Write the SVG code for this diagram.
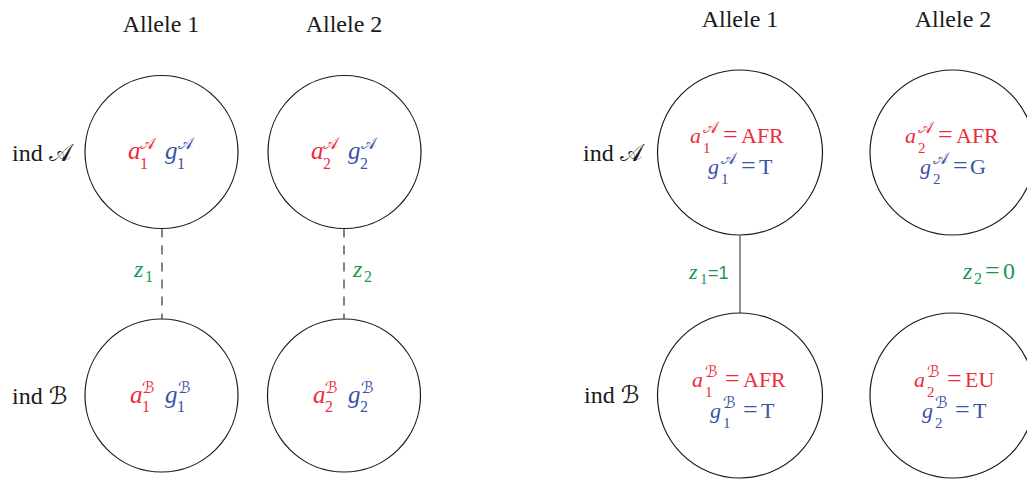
<svg xmlns="http://www.w3.org/2000/svg" width="1027" height="479" viewBox="0 0 1027 479">
<style>
.circ{fill:#fff;stroke:#1a1a1a;stroke-width:1.2}
.lbl{font-family:"Liberation Serif",serif;font-size:24px;fill:#1a1a1a}
.cal{font-family:"DejaVu Serif","DejaVu Sans","Noto Sans",serif;font-style:normal}
.red{fill:#ec2c3b}
.blue{fill:#3953a6}
.green{fill:#16994f}
.mi{font-family:"Liberation Serif",serif;font-style:italic}
.rm{font-family:"Liberation Serif",serif}
.L{font-size:25px}
.S{font-size:16px}
.P{font-size:16px}
.Q{font-size:15px}
.R{font-size:22px}
.eq{font-size:26px}
.dash{stroke:#333;stroke-width:1.2;stroke-dasharray:9 8;fill:none}
.solid{stroke:#555;stroke-width:1.3;fill:none}
</style>

<!-- column / row labels -->
<g id="labels">
<text class="lbl" x="161" y="32" text-anchor="middle">Allele 1</text>
<text class="lbl" x="344" y="32" text-anchor="middle">Allele 2</text>
<text class="lbl" x="740" y="27" text-anchor="middle">Allele 1</text>
<text class="lbl" x="953" y="27" text-anchor="middle">Allele 2</text>
<text class="lbl" x="12" y="161">ind <tspan class="cal">𝒜</tspan></text>
<text class="lbl" x="12" y="404">ind <tspan class="cal">ℬ</tspan></text>
<text class="lbl" x="583" y="161">ind <tspan class="cal">𝒜</tspan></text>
<text class="lbl" x="584" y="403">ind <tspan class="cal">ℬ</tspan></text>
</g>

<!-- connectors -->
<g id="connectors">
<line class="dash" x1="162" y1="228.5" x2="162" y2="319"/>
<line class="dash" x1="344" y1="228.5" x2="344" y2="319"/>
<line class="solid" x1="740" y1="235.5" x2="740" y2="313"/>
<text class="green"><tspan class="mi" x="134" y="277" font-size="24">z</tspan><tspan class="rm S" x="145" y="282">1</tspan></text>
<text class="green"><tspan class="mi" x="353" y="277" font-size="24">z</tspan><tspan class="rm S" x="364" y="282">2</tspan></text>
<text class="green"><tspan class="mi" x="689" y="279" font-size="22">z</tspan><tspan class="rm" x="700" y="284" font-size="15">1</tspan><tspan x="708" y="279" font-family="Liberation Sans, sans-serif" font-size="18">=1</tspan></text>
<text class="green"><tspan class="mi" x="963" y="279" font-size="24">z</tspan><tspan class="rm S" x="974" y="284">2</tspan><tspan class="rm" x="985" y="279" font-size="26">=</tspan><tspan class="rm" x="1003" y="279" font-size="24">0</tspan></text>
</g>

<!-- left panel nodes -->
<g id="L_A1">
<circle class="circ" cx="161.5" cy="152" r="76.5"/>
<text class="red"><tspan class="mi L" x="128" y="159">a</tspan><tspan class="cal P" x="140" y="149">𝒜</tspan><tspan class="rm S" x="140" y="168.5">1</tspan></text>
<text class="blue"><tspan class="mi L" x="165" y="159">g</tspan><tspan class="cal P" x="178" y="149">𝒜</tspan><tspan class="rm S" x="177" y="168.5">1</tspan></text>
</g>
<g id="L_A2">
<circle class="circ" cx="344.5" cy="152" r="76.5"/>
<text class="red"><tspan class="mi L" x="311" y="159">a</tspan><tspan class="cal P" x="323" y="149">𝒜</tspan><tspan class="rm S" x="323" y="168.5">2</tspan></text>
<text class="blue"><tspan class="mi L" x="348" y="159">g</tspan><tspan class="cal P" x="361" y="149">𝒜</tspan><tspan class="rm S" x="360" y="168.5">2</tspan></text>
</g>
<g id="L_B1">
<circle class="circ" cx="161.5" cy="395.5" r="76.5"/>
<text class="red"><tspan class="mi L" x="130" y="403">a</tspan><tspan class="cal P" x="142" y="393">ℬ</tspan><tspan class="rm S" x="142" y="412">1</tspan></text>
<text class="blue"><tspan class="mi L" x="165" y="403">g</tspan><tspan class="cal P" x="178" y="393">ℬ</tspan><tspan class="rm S" x="177" y="412">1</tspan></text>
</g>
<g id="L_B2">
<circle class="circ" cx="344" cy="395.5" r="76.5"/>
<text class="red"><tspan class="mi L" x="313" y="403">a</tspan><tspan class="cal P" x="325" y="393">ℬ</tspan><tspan class="rm S" x="325" y="412">2</tspan></text>
<text class="blue"><tspan class="mi L" x="348" y="403">g</tspan><tspan class="cal P" x="361" y="393">ℬ</tspan><tspan class="rm S" x="360" y="412">2</tspan></text>
</g>

<!-- right panel nodes -->
<g id="R_A1">
<circle class="circ" cx="740" cy="152.5" r="82.5"/>
<text class="red R"><tspan class="mi" x="690" y="143">a</tspan><tspan class="cal P" x="703" y="133">𝒜</tspan><tspan class="rm Q" x="703" y="153">1</tspan><tspan class="rm eq" x="723" y="143">=</tspan><tspan class="rm" x="741" y="143">AFR</tspan></text>
<text class="blue R"><tspan class="mi" x="708" y="174">g</tspan><tspan class="cal P" x="721" y="164">𝒜</tspan><tspan class="rm Q" x="721" y="184">1</tspan><tspan class="rm eq" x="741" y="174">=</tspan><tspan class="rm" x="759" y="174">T</tspan></text>
</g>
<g id="R_A2">
<circle class="circ" cx="952.5" cy="152.5" r="82.5"/>
<text class="red R"><tspan class="mi" x="905" y="143">a</tspan><tspan class="cal P" x="918" y="133">𝒜</tspan><tspan class="rm Q" x="918" y="153">2</tspan><tspan class="rm eq" x="938" y="143">=</tspan><tspan class="rm" x="956" y="143">AFR</tspan></text>
<text class="blue R"><tspan class="mi" x="920" y="174">g</tspan><tspan class="cal P" x="933" y="164">𝒜</tspan><tspan class="rm Q" x="933" y="184">2</tspan><tspan class="rm eq" x="953" y="174">=</tspan><tspan class="rm" x="970" y="174">G</tspan></text>
</g>
<g id="R_B1">
<circle class="circ" cx="740" cy="395.5" r="82.5"/>
<text class="red R"><tspan class="mi" x="692" y="387">a</tspan><tspan class="cal P" x="705" y="377">ℬ</tspan><tspan class="rm Q" x="705" y="397">1</tspan><tspan class="rm eq" x="725" y="387">=</tspan><tspan class="rm" x="743" y="387">AFR</tspan></text>
<text class="blue R"><tspan class="mi" x="710" y="418">g</tspan><tspan class="cal P" x="723" y="408">ℬ</tspan><tspan class="rm Q" x="723" y="428">1</tspan><tspan class="rm eq" x="743" y="418">=</tspan><tspan class="rm" x="761" y="418">T</tspan></text>
</g>
<g id="R_B2">
<circle class="circ" cx="952.5" cy="395.5" r="82.5"/>
<text class="red R"><tspan class="mi" x="914" y="387">a</tspan><tspan class="cal P" x="927" y="377">ℬ</tspan><tspan class="rm Q" x="927" y="397">2</tspan><tspan class="rm eq" x="947" y="387">=</tspan><tspan class="rm" x="965" y="387">EU</tspan></text>
<text class="blue R"><tspan class="mi" x="922" y="418">g</tspan><tspan class="cal P" x="935" y="408">ℬ</tspan><tspan class="rm Q" x="935" y="428">2</tspan><tspan class="rm eq" x="955" y="418">=</tspan><tspan class="rm" x="973" y="418">T</tspan></text>
</g>
</svg>
